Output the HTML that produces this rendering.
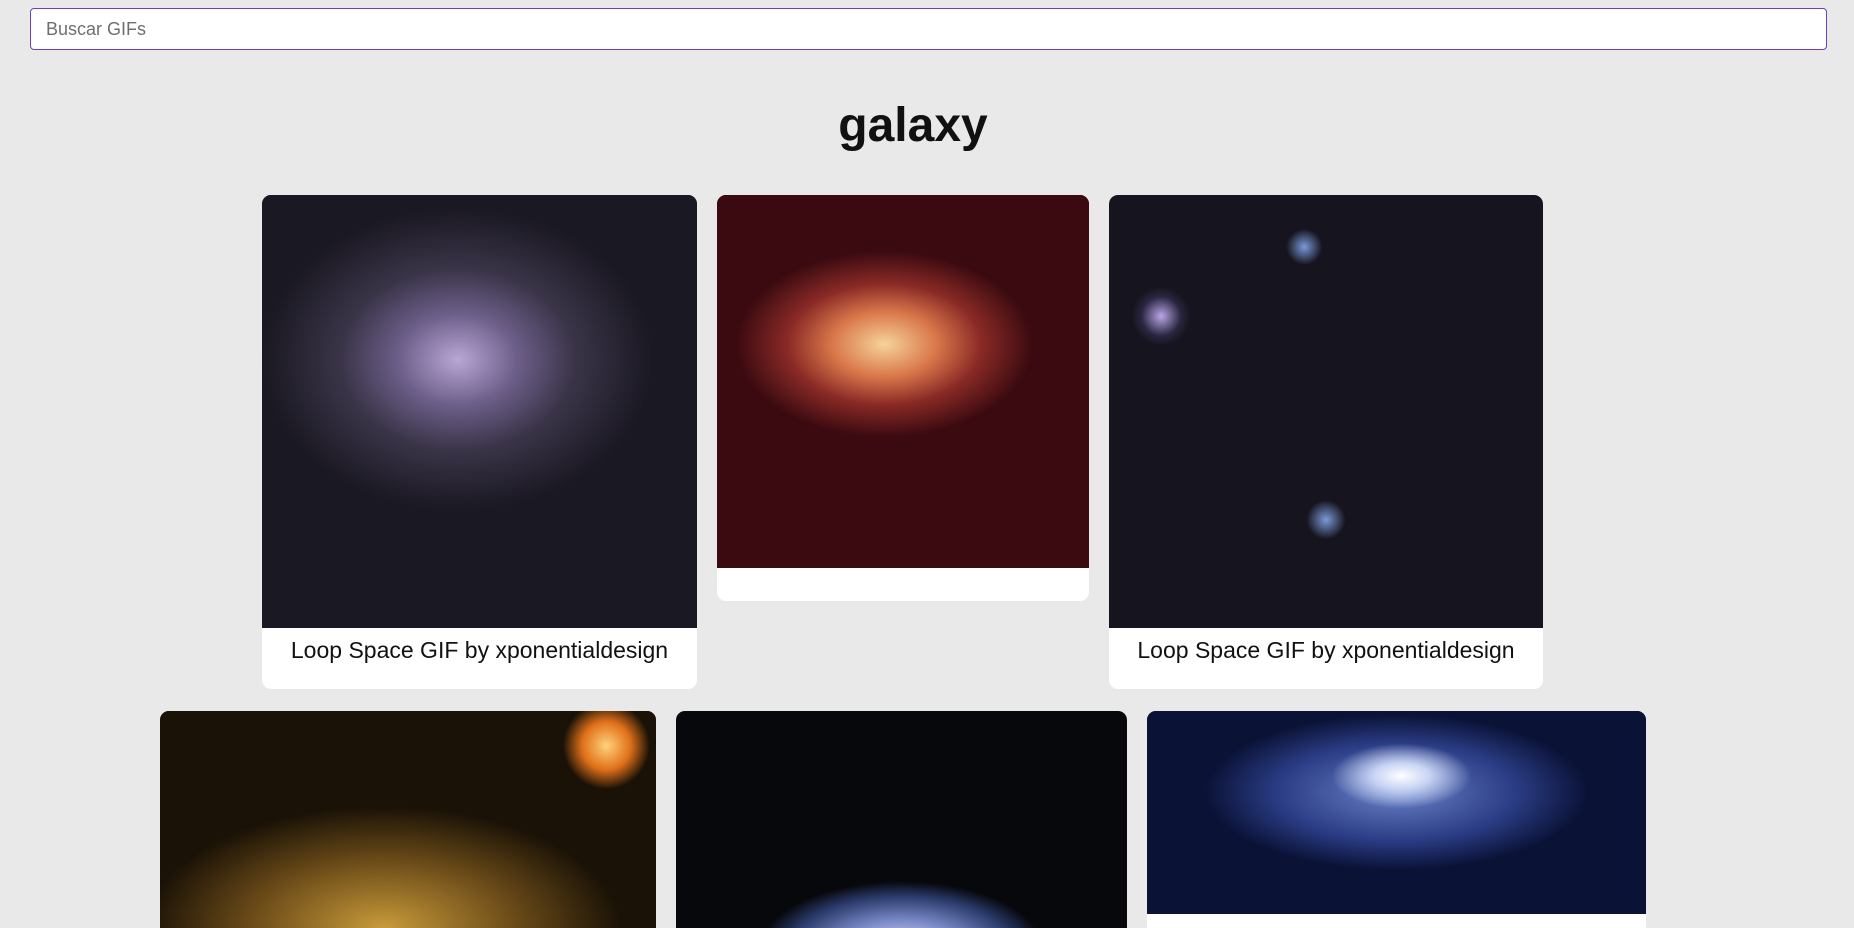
<!DOCTYPE html>
<html><head><meta charset="utf-8"><style>
html,body{margin:0;padding:0;width:1854px;height:928px;overflow:hidden;background:#e9e9e9;font-family:"Liberation Sans",sans-serif;}
html{max-height:928px;}
.search{position:absolute;left:30px;top:8px;width:1797px;height:42px;border:1px solid #6b3fc6;border-radius:4px;background:#fff;box-sizing:border-box;padding-left:15px;font-size:18px;color:#6f6f6f;line-height:40px;}
h1{position:absolute;left:0;width:1826px;top:98px;margin:0;text-align:center;font-size:48px;font-weight:bold;color:#111;}
.card{position:absolute;background:#fff;border-radius:9px;overflow:hidden;}
.bot{border-radius:9px 9px 0 0;}
.img{position:absolute;left:0;top:0;width:100%;}
.cap{position:absolute;left:0;width:100%;text-align:center;font-size:23px;color:#111;}
</style></head><body>
<div class="search">Buscar GIFs</div>
<h1>galaxy</h1>

<div class="card" style="left:262px;top:195px;width:435px;height:494px">
 <div class="img" style="height:433px;background:radial-gradient(ellipse 45% 35% at 45% 38%,#b9a6d6 0%,#6d5f8a 30%,#3a3448 60%,#1a1822 100%),#111;"></div>
 <div class="cap" style="top:442px">Loop Space GIF by xponentialdesign</div>
</div>

<div class="card" style="left:717px;top:195px;width:372px;height:406px">
 <div class="img" style="height:373px;background:radial-gradient(ellipse 40% 25% at 45% 40%,#f6d39a 0%,#d9774a 35%,#8a2a26 65%,#3a0a10 100%),#2a0508;"></div>
</div>

<div class="card" style="left:1109px;top:195px;width:434px;height:494px">
 <div class="img" style="height:433px;background:radial-gradient(circle at 12% 28%,#b9a6e6 0,#2a2640 4%,transparent 6%),radial-gradient(circle at 50% 75%,#7a9ad8 0,transparent 5%),radial-gradient(circle at 45% 12%,#7a9ad8 0,transparent 4%),#16141e;"></div>
 <div class="cap" style="top:442px">Loop Space GIF by xponentialdesign</div>
</div>

<div class="card bot" style="left:160px;top:711px;width:496px;height:217px">
 <div class="img" style="height:217px;background:radial-gradient(circle at 90% 16%,#ffd27a 0,#e0701a 5%,transparent 9%),radial-gradient(ellipse 60% 70% at 45% 100%,#c89a3a 0%,#6a4a18 45%,#1a1206 80%),#0e0a05;"></div>
</div>

<div class="card bot" style="left:676px;top:711px;width:451px;height:217px">
 <div class="img" style="height:217px;background:radial-gradient(ellipse 45% 45% at 50% 110%,#f0e0e8 0%,#7a8ac8 30%,#2a3a6a 55%,transparent 70%),#07080c;"></div>
</div>

<div class="card bot" style="left:1147px;top:711px;width:499px;height:217px">
 <div class="img" style="height:203px;background:radial-gradient(ellipse 14% 16% at 51% 32%,#ffffff 0%,#c8d4f4 40%,transparent 100%),radial-gradient(ellipse 48% 48% at 50% 40%,#6a82c8 0%,#2a3c84 50%,#0a1236 80%),#050818;"></div>
</div>
</body></html>
